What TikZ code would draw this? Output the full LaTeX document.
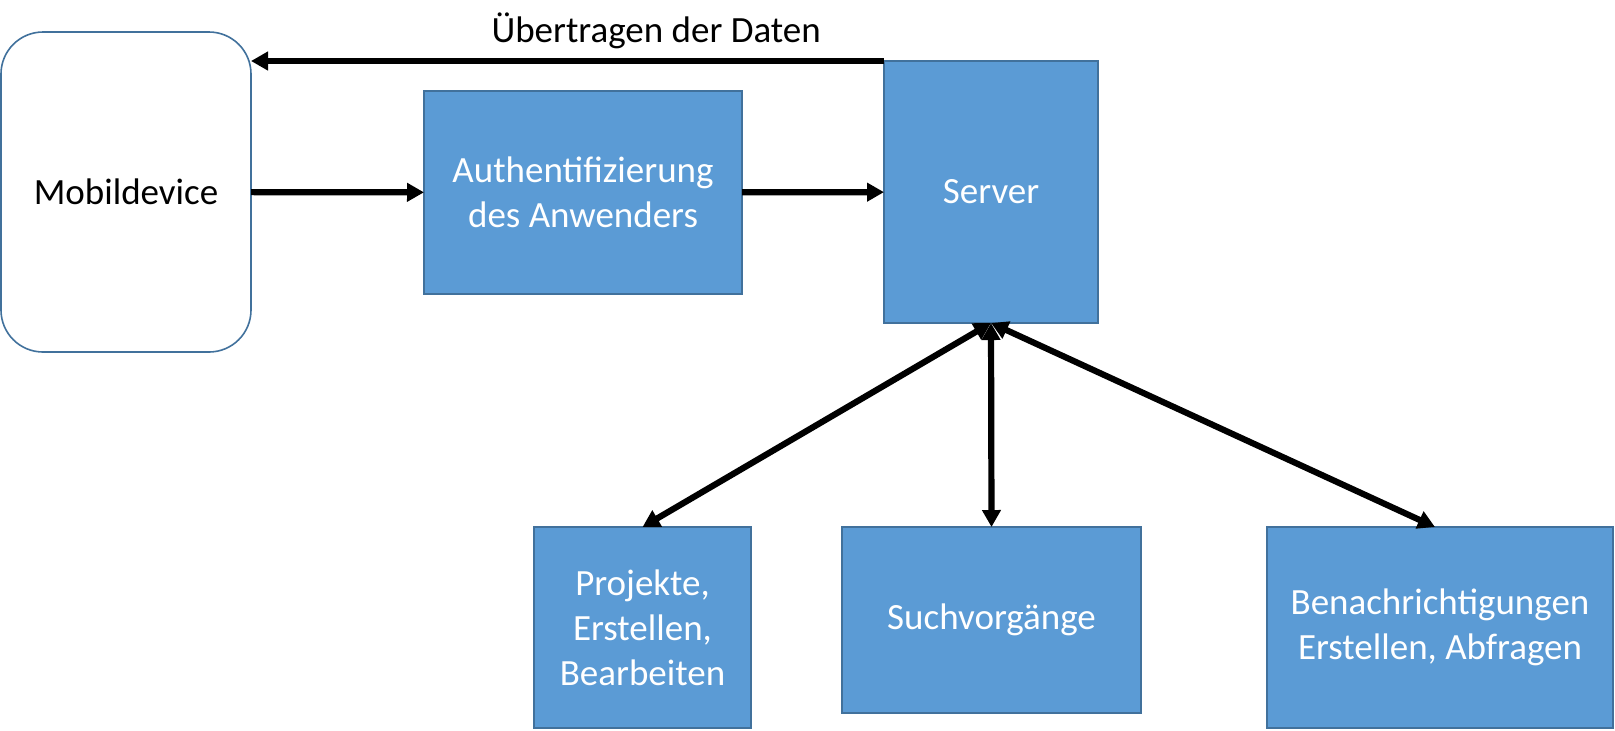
\documentclass[tikz,border=0pt]{standalone}
\usepackage{fontspec}
\setmainfont{Carlito}
\usetikzlibrary{arrows.meta}
\usetikzlibrary{positioning}

\definecolor{boxfill}{HTML}{5B9BD5}
\definecolor{boxline}{HTML}{41719C}

\begin{document}
\begin{tikzpicture}[x=0.5pt,y=-0.5pt,
    font=\fontsize{18.5}{22.5}\selectfont,
    arr/.style={line width=3.1pt,-{Triangle[length=8.5pt,width=9pt]}},
    darr/.style={line width=3.1pt,{Triangle[length=8.5pt,width=9pt]}-{Triangle[length=8.5pt,width=9pt]}},
    blue box/.style={rectangle,draw=boxline,line width=0.8pt,fill=boxfill,text=white,align=center,outer sep=0pt,inner sep=2pt},
    device box/.style={rectangle,rounded corners=21pt,draw=boxline,line width=0.8pt,fill=white,text=black,align=center,outer sep=0pt}]

    \useasboundingbox (0,0) rectangle (1615,730);

    \node[device box,minimum width=125pt,minimum height=160pt] (mobile) at (126,192)    {Mobildevice};
    \node[blue box,minimum width=159pt,minimum height=101.5pt] (auth)   at (583,192.5)  {Authentifizierung\\des Anwenders};
    \node[blue box,minimum width=107pt,minimum height=131pt]   (server) at (991,192)    {Server};
    \node[blue box,minimum width=108.5pt,minimum height=100.5pt] (proj)  at (642.5,627.5) {Projekte,\\Erstellen,\\Bearbeiten};
    \node[blue box,minimum width=149.5pt,minimum height=93pt]  (such)   at (991.5,620)  {Suchvorgänge};
    \node[blue box,minimum width=173pt,minimum height=100.5pt] (benach) at (1440,627.5) {Benachrichtigungen\\Erstellen, Abfragen};

    \draw[arr] (mobile) -- (auth);
    \draw[arr] (auth) -- (server);
    \draw[arr] (server.north west) -- node[pos=0.36,above=1pt,text=black] {Übertragen der Daten} (server.north west -| mobile.east);

    \draw[darr] (server.south) -- (proj.north);
    \draw[darr] (server.south) -- (such.north);
    \draw[darr] (server.south) -- ([xshift=-2.5pt]benach.north);
\end{tikzpicture}
\end{document}
